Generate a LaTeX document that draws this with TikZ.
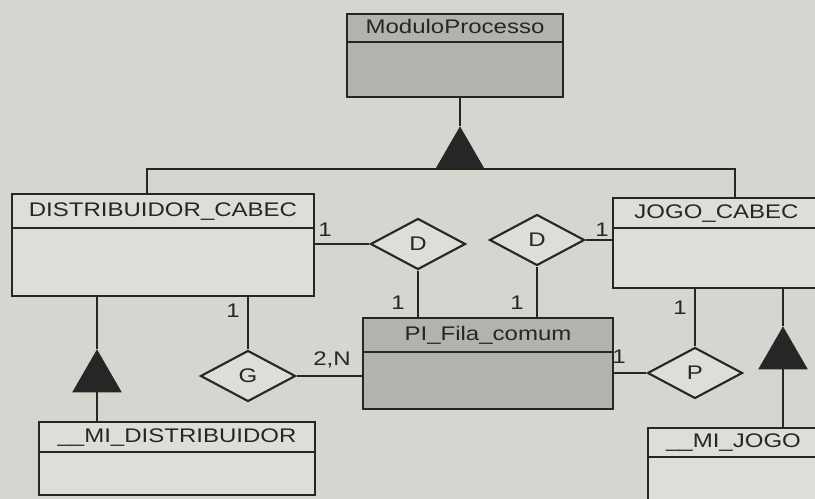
\documentclass[tikz,border=0pt]{standalone}
\usepackage{fontspec}
\setmainfont{Liberation Sans}[FakeStretch=1.22]
\usetikzlibrary{shapes.geometric,calc}
\definecolor{erpaper}{RGB}{214,214,209}
\definecolor{erlight}{RGB}{221,221,217}
\definecolor{ergray}{RGB}{178,178,174}
\definecolor{erink}{RGB}{38,38,38}
\newcommand{\erfont}{\fontsize{14}{16}\selectfont}
\tikzset{
  erbox/.style={
    rectangle, draw=erink, fill=erlight, line width=1.5pt, inner sep=0pt
  },
  erboxgray/.style={erbox, fill=ergray},
  erhead/.style={
    erbox, anchor=north, inner sep=1pt, text=erink, font=\erfont,
    text height=0.9em, text depth=0.184em
  },
  erheadgray/.style={erhead, fill=ergray},
  errel/.style={
    diamond, draw=erink, fill=erlight, line width=1.5pt, inner sep=0pt,
    minimum width=23.75mm, minimum height=12.75mm, text=erink, font=\erfont
  },
  erisa/.style={
    regular polygon, regular polygon sides=3, draw=erink, fill=erink,
    inner sep=0pt, minimum size=14mm
  },
  erline/.style={draw=erink, line width=1.5pt},
  ercard/.style={font=\erfont, text=erink, inner sep=0pt}
}

\begin{document}
\begin{tikzpicture}[x=0.25mm,y=-0.25mm]
\clip (0,0) rectangle (815,499);
\fill[erpaper] (0,0) rectangle (815,499);

% entities: body box, then header box on top of it
\node[erboxgray, minimum width=54mm, minimum height=20.75mm] (modproc) at (455,55.5) {};
\node[erheadgray, minimum width=54mm, minimum height=7mm] (modproch) at (modproc.north) {ModuloProcesso};

\node[erbox, minimum width=75.5mm, minimum height=25.5mm] (distcab) at (163,245) {};
\node[erhead, minimum width=75.5mm, minimum height=8.5mm] (distcabh) at (distcab.north) {DISTRIBUIDOR\_CABEC};

\node[erbox, minimum width=51.75mm, minimum height=22.5mm] (jogocab) at (716.5,243) {};
\node[erhead, minimum width=51.75mm, minimum height=7.5mm] (jogocabh) at (jogocab.north) {JOGO\_CABEC};

\node[erboxgray, minimum width=62.5mm, minimum height=22.75mm] (pifila) at (488,363.5) {};
\node[erheadgray, minimum width=62.5mm, minimum height=8.5mm] (pifilah) at (pifila.north) {PI\_Fila\_comum};

\node[erbox, minimum width=69mm, minimum height=18.25mm] (midist) at (177,458.5) {};
\node[erhead, minimum width=69mm, minimum height=7.5mm] (midisth) at (midist.north) {\_\_MI\_DISTRIBUIDOR};

\node[erbox, minimum width=42.75mm, minimum height=25.5mm] (mijogo) at (733.5,479) {};
\node[erhead, minimum width=42.75mm, minimum height=7.25mm] (mijogoh) at (mijogo.north) {\_\_MI\_JOGO};

% relationships
\node[errel] (reldl) at (418,244) {D};
\node[errel] (reldr) at (537,240) {D};
\node[errel] (relg) at (248,376) {G};
\node[errel] (relp) at (695,373) {P};

% generalisation triangles
\node[erisa] (isatop) at (460,155) {};
\node[erisa] (isadist) at (97,378) {};
\node[erisa] (isajogo) at (783,355) {};

\draw[erline] (isatop.corner 1) -- (isatop.corner 1 |- modproc.south);
\draw[erline] ([xshift=-4mm]distcab.north) |- (isatop.side 2) -| ([xshift=4.6mm]jogocab.north);
\draw[erline] (isadist.corner 1) -- (isadist.corner 1 |- distcab.south);
\draw[erline] (isadist.side 2) -- (isadist.side 2 |- midist.north);
\draw[erline] (isajogo.corner 1) -- (isajogo.corner 1 |- jogocab.south);
\draw[erline] (isajogo.side 2) -- (isajogo.side 2 |- mijogo.north);

\draw[erline] (reldl.west) -- (reldl.west -| distcab.east);
\draw[erline] (reldl.south) -- (reldl.south |- pifila.north);
\draw[erline] (reldr.east) -- (reldr.east -| jogocab.west);
\draw[erline] (reldr.south) -- (reldr.south |- pifila.north);
\draw[erline] (relg.north) -- (relg.north |- distcab.south);
\draw[erline] (relg.east) -- (relg.east -| pifila.west);
\draw[erline] (relp.north) -- (relp.north |- jogocab.south);
\draw[erline] (relp.west) -- (relp.west -| pifila.east);

% cardinalities
\node[ercard] (cdl1) at (325,230) {1};
\node[ercard] (cdl2) at (398,303) {1};
\node[ercard] (cdr2) at (517,303) {1};
\node[ercard] (cdr1) at (602,230) {1};
\node[ercard] (cg1) at (233,311) {1};
\node[ercard] (cg2) at (332,360) {2,N};
\node[ercard] (cp2) at (619,357) {1};
\node[ercard] (cp1) at (680,308) {1};
\end{tikzpicture}
\end{document}
